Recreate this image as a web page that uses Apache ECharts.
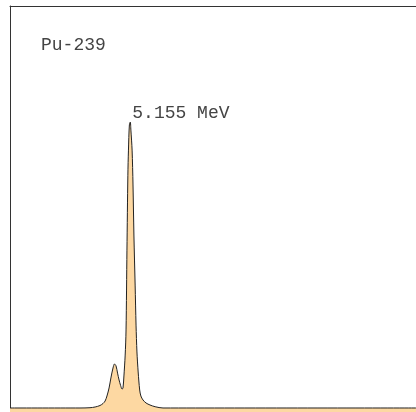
<!DOCTYPE html>
<html>
<head>
<meta charset="utf-8">
<script src="https://cdn.jsdelivr.net/npm/echarts@6/dist/echarts.min.js"></script>
<style>html,body{margin:0;padding:0;background:#fff;}#c{width:416px;height:412px;}</style>
</head>
<body>
<div id="c"></div>
<script>
// Energy (MeV) and counts (arbitrary, main peak = 1000)
var energy = [4.760, 4.991, 5.024, 5.041, 5.057, 5.067, 5.074, 5.080, 5.087, 5.093, 5.100, 5.105, 5.110, 5.115, 5.120, 5.125, 5.130, 5.133, 5.136, 5.140, 5.143, 5.146, 5.149, 5.151, 5.154, 5.157, 5.159, 5.163, 5.166, 5.169, 5.173, 5.176, 5.179, 5.183, 5.188, 5.192, 5.199, 5.209, 5.222, 5.239, 5.265, 6.100];
var counts = [0, 0, 1, 3.5, 8.7, 15.7, 24.5, 42, 70, 105, 140, 154, 147, 122, 98, 79, 66, 70, 112, 182, 273, 552, 814, 902, 990, 1000, 972, 902, 780, 605, 430, 290, 196, 126, 63, 42, 28, 17.5, 10.5, 4.5, 0, 0];
var isotope = 'Pu-239';
var peakLabel = '5.155 MeV';
var peakEnergy = 5.157;
var peakCounts = 1000;

var points = energy.map(function (e, i) { return [e, counts[i]]; });
var chart = echarts.init(document.getElementById('c'), null, {renderer: 'canvas'});
var font = "'Courier New', 'Liberation Mono', monospace";
chart.setOption({
  animation: false,
  backgroundColor: '#ffffff',
  title: {
    text: isotope,
    left: 36, top: 31,
    textStyle: {fontFamily: font, fontSize: 18, fontWeight: 'normal', color: '#444'}
  },
  grid: {left: 10, top: 6, right: 0, bottom: 0, containLabel: false},
  xAxis: {
    type: 'value', position: 'top', min: 4.76, max: 6.10,
    axisLine: {show: true, onZero: false, lineStyle: {color: '#333', width: 1}},
    axisTick: {show: false}, axisLabel: {show: false}, splitLine: {show: false}
  },
  yAxis: {
    type: 'value', min: -14, max: 1406,
    axisLine: {show: true, onZero: false, lineStyle: {color: '#333', width: 1}},
    axisTick: {show: false}, axisLabel: {show: false}, splitLine: {show: false}
  },
  series: [{
    type: 'line',
    data: points,
    showSymbol: false,
    smooth: 0.3,
    lineStyle: {color: '#222', width: 1},
    areaStyle: {color: '#fdd8a2', opacity: 1, origin: 'start'},
    markPoint: {
      symbol: 'circle', symbolSize: 0,
      data: [{coord: [peakEnergy, peakCounts], value: peakLabel}],
      label: {
        show: true, position: [0, 0], align: 'left', verticalAlign: 'bottom',
        offset: [2, 0],
        formatter: function (p) { return p.value; },
        fontFamily: font, fontSize: 18, color: '#444'
      }
    }
  }]
});
</script>
</body>
</html>
